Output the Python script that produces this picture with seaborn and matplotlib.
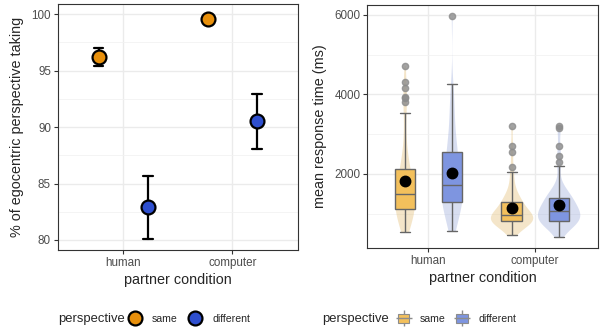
import numpy as np
import pandas as pd
import matplotlib
matplotlib.use("Agg")
import matplotlib.pyplot as plt
from matplotlib.lines import Line2D
from matplotlib.patches import Patch
import seaborn as sns

# ---- data ----
conditions = ["human", "computer"]
perspectives = ["same", "different"]

# left panel: % egocentric perspective taking (mean, lower, upper)
ego_mean = {"human": [96.2, 82.9], "computer": [99.6, 90.5]}
ego_low = {"human": [95.4, 80.1], "computer": [99.5, 88.1]}
ego_high = {"human": [97.0, 85.7], "computer": [99.7, 92.9]}

# right panel: per-participant mean response times (ms)
rt_human_same = [550, 610, 670, 720, 770, 810, 850, 890, 930, 965, 1000, 1030, 1060, 1080, 1095,
                 1110, 1140, 1170, 1200, 1230, 1260, 1290, 1320, 1350, 1380, 1410, 1440, 1465, 1485, 1495,
                 1505, 1540, 1580, 1620, 1660, 1700, 1750, 1800, 1850, 1900, 1950, 2000, 2050, 2100, 2120,
                 2160, 2220, 2300, 2400, 2520, 2680, 2900, 3200, 3525, 3800, 3900, 3925, 4150, 4325, 4725]
rt_human_diff = [575, 640, 700, 760, 820, 880, 940, 1000, 1060, 1110, 1160, 1200, 1240, 1270, 1290,
                 1310, 1340, 1370, 1400, 1430, 1460, 1490, 1520, 1550, 1580, 1610, 1640, 1670, 1700, 1720,
                 1730, 1780, 1840, 1900, 1960, 2020, 2080, 2140, 2200, 2260, 2320, 2380, 2440, 2500, 2540,
                 2580, 2650, 2730, 2820, 2920, 3030, 3150, 3280, 3420, 3570, 3720, 3880, 4050, 4275, 5975]
rt_comp_same = [475, 560, 620, 660, 690, 715, 735, 750, 762, 772, 780, 787, 792, 796, 799,
                805, 820, 835, 850, 865, 880, 895, 910, 925, 935, 945, 955, 962, 968, 972,
                978, 990, 1005, 1020, 1040, 1060, 1085, 1110, 1140, 1170, 1200, 1230, 1260, 1285, 1300,
                1320, 1345, 1375, 1410, 1450, 1500, 1560, 1640, 1750, 1900, 2050, 2175, 2550, 2700, 3200]
rt_comp_diff = [425, 520, 590, 640, 680, 710, 735, 755, 770, 785, 795, 805, 812, 818, 822,
                830, 850, 870, 890, 910, 930, 950, 970, 990, 1010, 1025, 1040, 1055, 1065, 1070,
                1080, 1095, 1110, 1130, 1150, 1175, 1200, 1225, 1250, 1280, 1310, 1340, 1365, 1390, 1400,
                1420, 1440, 1460, 1490, 1520, 1560, 1610, 1680, 1780, 2200, 2300, 2450, 2700, 3150, 3200]

# ---- build frames ----
rows = []
for c in conditions:
    for i, p in enumerate(perspectives):
        for v in (ego_low[c][i], ego_mean[c][i], ego_high[c][i]):
            rows.append((c, p, v))
ego = pd.DataFrame(rows, columns=["condition", "perspective", "ego"])

rt_groups = {("human", "same"): rt_human_same, ("human", "different"): rt_human_diff,
             ("computer", "same"): rt_comp_same, ("computer", "different"): rt_comp_diff}
rt = pd.DataFrame([(c, p, v) for (c, p), vals in rt_groups.items() for v in vals],
                  columns=["condition", "perspective", "rt"])

# ---- style ----
sns.set_style("white")
plt.rcParams["font.family"] = ["Liberation Sans", "DejaVu Sans"]
plt.rcParams["axes.edgecolor"] = "#333333"
plt.rcParams["axes.linewidth"] = 0.8

dark_pal = ["#E8900C", "#2E4FCF"]
box_pal = ["#F3C05C", "#7E95E0"]
violin_pal = ["#F5B840", "#7B93DF"]

fig = plt.figure(figsize=(6.03, 3.31), dpi=100)
ax1 = fig.add_axes([0.096, 0.245, 0.398, 0.742])
ax2 = fig.add_axes([0.609, 0.250, 0.383, 0.736])


def style_axes(ax):
    ax.set_axisbelow(True)
    ax.grid(which="major", color="#EBEBEB", linewidth=1.0)
    ax.grid(which="minor", axis="y", color="#F2F2F2", linewidth=0.6)
    ax.tick_params(axis="both", which="major", length=3, width=0.8, color="#333333",
                   labelsize=8.4, labelcolor="#4D4D4D", pad=2, bottom=True, left=True)
    ax.tick_params(which="minor", length=0)
    for s in ax.spines.values():
        s.set_color("#333333")
        s.set_linewidth(0.8)


# ---- left panel ----
sns.pointplot(data=ego, x="condition", y="ego", hue="perspective", order=conditions,
              hue_order=perspectives, palette=dark_pal, estimator="median",
              errorbar=lambda v: (v.min(), v.max()), dodge=0.45, linestyles="none",
              markers="o", markersize=10, markeredgecolor="black", markeredgewidth=1.6,
              capsize=0.085, err_kws={"color": "black", "linewidth": 1.6, "zorder": 2},
              zorder=3, legend=False, ax=ax1)
ax1.set_xlim(-0.6, 1.6)
ax1.set_ylim(79.12, 100.88)
ax1.set_yticks([80, 85, 90, 95, 100])
ax1.set_yticks([82.5, 87.5, 92.5, 97.5], minor=True)
ax1.set_xlabel("partner condition", fontsize=10.4, labelpad=3)
ax1.set_ylabel("% of egocentric perspective taking", fontsize=10.4, labelpad=5)
style_axes(ax1)

# ---- right panel ----
sns.violinplot(data=rt, x="condition", y="rt", hue="perspective", order=conditions,
               hue_order=perspectives, palette=violin_pal, width=0.88, gap=0.1, cut=0,
               inner=None, bw_adjust=0.8, linewidth=0, alpha=0.32, legend=False, ax=ax2)
sns.boxplot(data=rt, x="condition", y="rt", hue="perspective", order=conditions,
            hue_order=perspectives, palette=box_pal, width=0.88, gap=0.57,
            linecolor="#666666", linewidth=1.0, saturation=1,
            flierprops=dict(marker="o", markersize=4.5, markerfacecolor="#8C8C8C",
                            markeredgecolor="#8C8C8C", alpha=0.8),
            legend=False, ax=ax2)
sns.pointplot(data=rt, x="condition", y="rt", hue="perspective", order=conditions,
              hue_order=perspectives, palette=["black", "black"], estimator="mean",
              errorbar=None, dodge=0.44, linestyles="none", markers="o", markersize=6.5,
              zorder=5, legend=False, ax=ax2)
ax2.set_xlim(-0.57, 1.59)
ax2.set_ylim(130, 6260)
ax2.set_yticks([2000, 4000, 6000])
ax2.set_yticks([1000, 3000, 5000], minor=True)
ax2.set_xlabel("partner condition", fontsize=10.4, labelpad=3)
ax2.set_ylabel("mean response time (ms)", fontsize=10.4, labelpad=5)
style_axes(ax2)

# ---- legends (title text on the left, keys placed right after it) ----
leg_y = 1 - 319 / 331
renderer = fig.canvas.get_renderer()

h1 = [Line2D([], [], marker="o", linestyle="", markersize=10, markerfacecolor=c,
             markeredgecolor="black", markeredgewidth=1.6) for c in dark_pal]
t1 = fig.text(58 / 603, leg_y, "perspective", fontsize=9.4, va="center", ha="left")
x1 = (t1.get_window_extent(renderer).x1 + 3) / fig.bbox.width
fig.legend(h1, perspectives, loc="center left", bbox_to_anchor=(x1, leg_y),
           frameon=False, fontsize=7.6, ncol=2, handlelength=1.3, handletextpad=1.0,
           columnspacing=1.0, borderpad=0, borderaxespad=0)

h2 = []
for c in box_pal:
    whisk = Line2D([], [], marker="|", linestyle="", markersize=12, color="#8C8C8C",
                   markeredgewidth=1.0)
    body = Patch(facecolor=c, edgecolor="#8C8C8C", linewidth=0.8)
    med = Line2D([], [], marker="_", linestyle="", markersize=11, color="#8C8C8C",
                 markeredgewidth=1.0)
    h2.append((whisk, body, med))
t2 = fig.text(322 / 603, leg_y, "perspective", fontsize=9.4, va="center", ha="left")
x2 = (t2.get_window_extent(renderer).x1 + 9) / fig.bbox.width
fig.legend(h2, perspectives, loc="center left", bbox_to_anchor=(x2, leg_y),
           frameon=False, fontsize=7.6, ncol=2, handlelength=1.1, handleheight=1.0,
           handletextpad=1.0, columnspacing=1.0, borderpad=0, borderaxespad=0)

fig.savefig("out.png", dpi=100)
